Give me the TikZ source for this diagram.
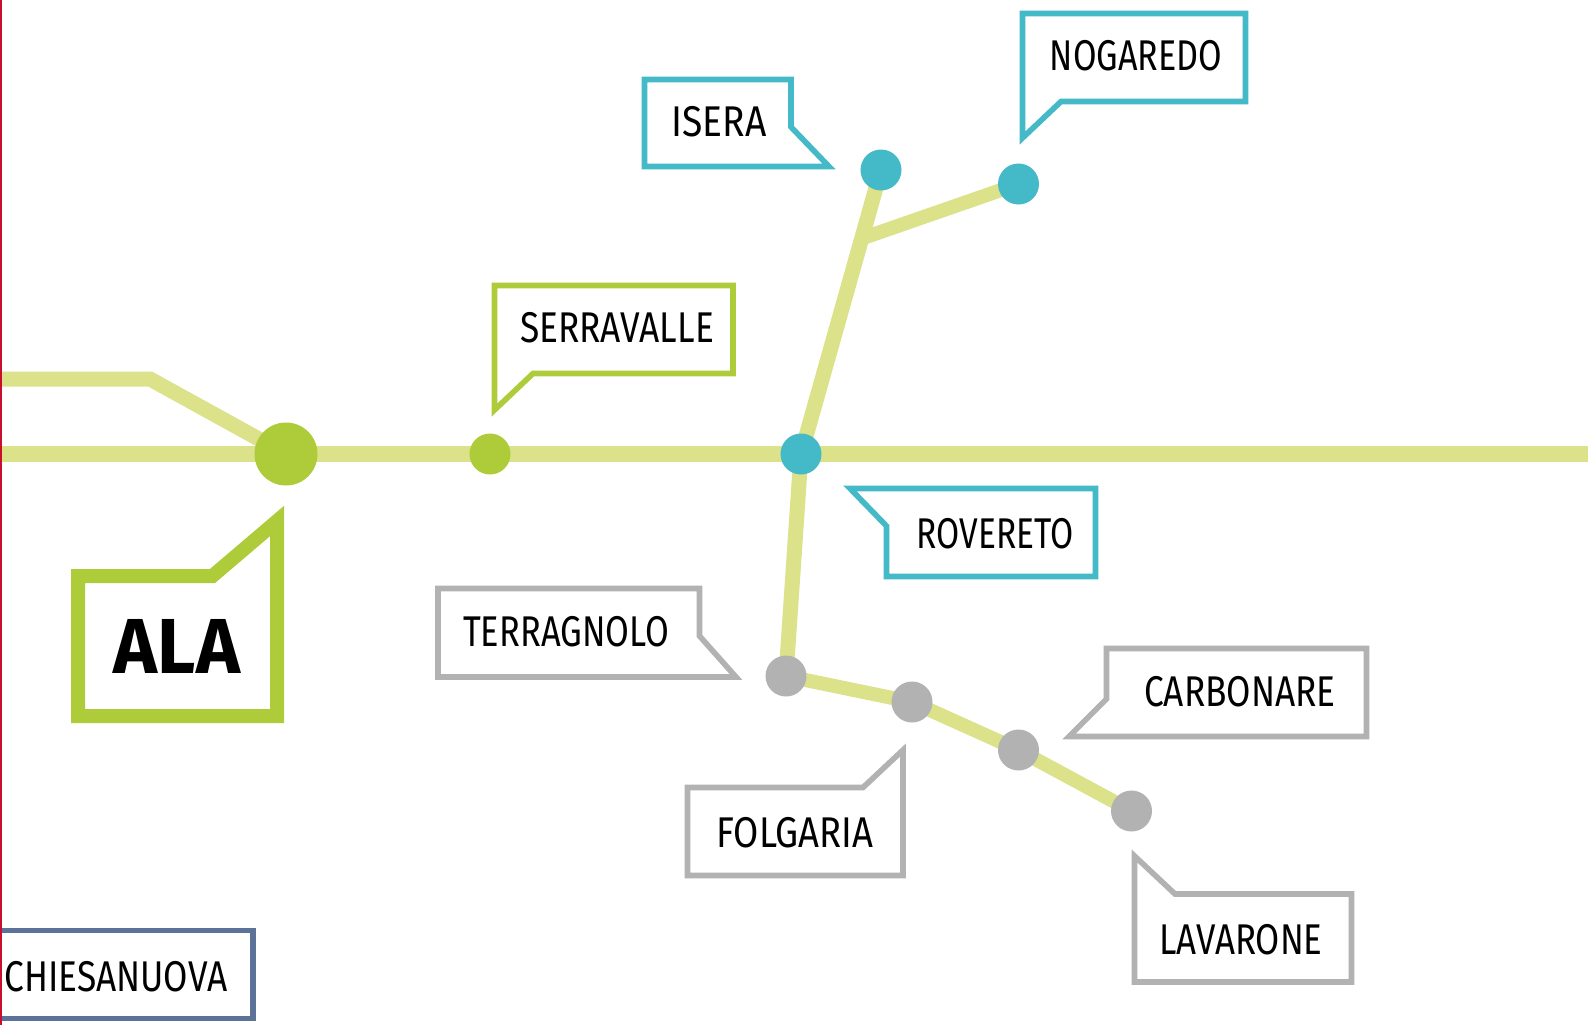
\documentclass[tikz,border=0pt]{standalone}
\usepackage{fontspec}
\setmainfont[FakeStretch=0.82]{Fira Sans}
\newfontfamily\alafont[FakeStretch=0.955]{Fira Sans}
\usetikzlibrary{backgrounds}
\definecolor{lgreen}{HTML}{DBE28A}
\definecolor{green}{HTML}{AECC3A}
\definecolor{teal}{HTML}{44B9C8}
\definecolor{gray}{HTML}{B2B2B2}
\definecolor{slate}{HTML}{5C7299}
\definecolor{redline}{HTML}{C8102E}
\tikzset{
  stationsm/.style={circle,inner sep=0pt,minimum size=41pt,fill=#1},
  track/.style={line width=15pt,draw=lgreen},
  thintrack/.style={line width=14pt,draw=lgreen},
  callout/.style={line width=5.6pt,draw=#1,miter limit=20,line join=miter},
  lab/.style={inner sep=0pt,text=black,font=\fontsize{43}{43}\selectfont,text height=29.6pt,text depth=0pt}
}
\begin{document}
\begin{tikzpicture}[x=1pt,y=-1pt]
\useasboundingbox (0,0) rectangle (1588,1025);
% stations
\node[circle,inner sep=0pt,minimum size=63pt,fill=green] (ala) at (286,454) {};
\node[stationsm=green] (serravalle) at (490,454) {};
\node[stationsm=teal] (rovereto) at (801,454) {};
\node[stationsm=teal] (isera) at (881,170) {};
\node[stationsm=teal] (nogaredo) at (1018.5,184) {};
\node[stationsm=gray] (terragnolo) at (786,676) {};
\node[stationsm=gray] (folgaria) at (912,702) {};
\node[stationsm=gray] (carbonare) at (1018.5,750) {};
\node[stationsm=gray] (lavarone) at (1131.5,811) {};
\coordinate (westA) at (0,454);
\coordinate (eastA) at (1588,454);
\coordinate (westB) at (0,379);
\coordinate (bend) at (150,379);
\coordinate (fork) at (866,237);
\begin{scope}[on background layer]
\fill[white] (0,0) rectangle (1588,1025);
\draw[track,line width=16pt] (westA) -- (ala.center) -- (serravalle.center) -- (rovereto.center) -- (eastA);
\draw[track] (westB) -- (bend) -- (ala.center);
\draw[track] (rovereto.center) -- (isera.center);
\draw[thintrack] (fork) -- (nogaredo.center);
\draw[track] (rovereto.center) -- (terragnolo.center);
\draw[thintrack] (terragnolo.center) -- (folgaria.center) -- (carbonare.center) -- (lavarone.center);
\end{scope}
% callouts
\draw[callout=green,line width=14pt] (78,716) -- (78,576) -- (212.5,576) -- (277,521) -- (277,716) -- cycle;
\draw[callout=green] (494.5,285.5) -- (733,285.5) -- (733,373.5) -- (533,373.5) -- (494.5,410) -- cycle;
\draw[callout=teal] (644.5,79.5) -- (791,79.5) -- (791,127) -- (829,166.5) -- (644.5,166.5) -- cycle;
\draw[callout=teal] (1022.5,13.5) -- (1245.5,13.5) -- (1245.5,101.5) -- (1061,101.5) -- (1022.5,138) -- cycle;
\draw[callout=teal] (850,488.5) -- (1095.5,488.5) -- (1095.5,576.5) -- (886.5,576.5) -- (886.5,526) -- cycle;
\draw[callout=gray] (438,588.5) -- (699.5,588.5) -- (699.5,636) -- (736,677) -- (438,677) -- cycle;
\draw[callout=gray] (1106.5,648.5) -- (1366.5,648.5) -- (1366.5,736.5) -- (1069,736.5) -- (1106.5,699) -- cycle;
\draw[callout=gray] (687.5,787.5) -- (863,787.5) -- (903,750) -- (903,875.5) -- (687.5,875.5) -- cycle;
\draw[callout=gray] (1134.5,856) -- (1175,894) -- (1351.5,894) -- (1351.5,982) -- (1134.5,982) -- cycle;
\draw[callout=slate] (1.5,930.5) -- (253,930.5) -- (253,1018.5) -- (1.5,1018.5);
\fill[redline] (0,0) rectangle (1.6,1025);
% labels
\node[lab,font=\fontsize{78}{78}\selectfont\alafont\bfseries,text height=54pt] (alaL) at (177,646) {ALA};
\node[lab] (serravalleL) at (617,328) {SERRAVALLE};
\node[lab] (iseraL) at (719,122) {\scalebox{1.055}[1]{ISERA}};
\node[lab] (nogaredoL) at (1136,56) {\scalebox{0.966}[1]{NOGAREDO}};
\node[lab] (roveretoL) at (995,534) {\scalebox{0.95}[1]{ROVERETO}};
\node[lab] (terragnoloL) at (566,632) {\scalebox{0.976}[1]{TERRAGNOLO}};
\node[lab] (carbonareL) at (1240,692) {CARBONARE};
\node[lab] (folgariaL) at (795,833) {\scalebox{1.035}[1]{FOLGARIA}};
\node[lab] (lavaroneL) at (1241,940) {\scalebox{0.99}[1]{LAVARONE}};
\node[lab] (chiesanuovaL) at (116,977) {CHIESANUOVA};
\end{tikzpicture}
\end{document}
